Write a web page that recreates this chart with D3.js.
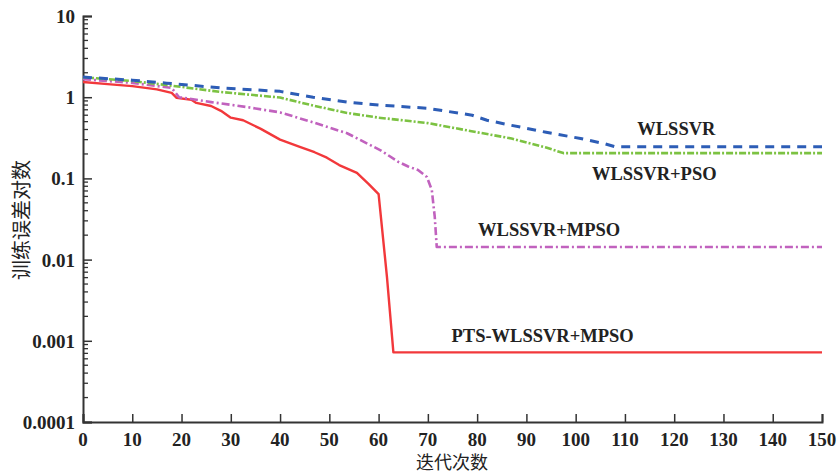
<!DOCTYPE html>
<html>
<head>
<meta charset="utf-8">
<script src="https://cdn.jsdelivr.net/npm/d3@7"></script>
<style>
  body { margin: 0; background: #fff; }
  svg text { fill: #222; }
</style>
</head>
<body>
<div id="chart"></div>
<script>
// iteration count / training error (log)
var redX = [0, 5, 10, 15, 18, 19, 22, 23, 26, 28, 30, 32.5, 36, 40, 44, 47, 49.5, 52, 55.6, 58, 60, 61.7, 63, 150]
var redY = [1.54, 1.45, 1.37, 1.25, 1.13, 0.98, 0.93, 0.85, 0.78, 0.68, 0.56, 0.52, 0.41, 0.30, 0.245, 0.21, 0.18, 0.146, 0.117, 0.085, 0.064, 0.0061, 0.00072, 0.00072]

var mpsoX = [0, 10, 18, 19.5, 22, 26, 33, 40, 46.7, 53.6, 60.5, 64, 66, 68, 69.8, 70.8, 71.4, 71.8, 150]
var mpsoY = [1.67, 1.5, 1.3, 1.0, 0.95, 0.87, 0.76, 0.65, 0.49, 0.36, 0.22, 0.16, 0.14, 0.127, 0.104, 0.072, 0.0335, 0.0143, 0.0143]

var blueX = [0, 10, 17, 28, 40, 46.7, 53.6, 60, 70, 79, 82, 87, 94, 101, 105.6, 108, 150]
var blueY = [1.77, 1.62, 1.49, 1.3, 1.18, 1.0, 0.87, 0.8, 0.73, 0.6, 0.52, 0.45, 0.37, 0.31, 0.27, 0.245, 0.245]

var psoX = [0, 10, 17, 28, 40, 46.7, 53.6, 60, 70, 80, 87, 94, 97.5, 150]
var psoY = [1.76, 1.58, 1.41, 1.16, 0.99, 0.79, 0.64, 0.56, 0.48, 0.37, 0.31, 0.24, 0.205, 0.205]

var xTicks = [0, 10, 20, 30, 40, 50, 60, 70, 80, 90, 100, 110, 120, 130, 140, 150]
var yTicks = [10, 1, 0.1, 0.01, 0.001, 0.0001]
var yTickLabels = ["10", "1", "0.1", "0.01", "0.001", "0.0001"]

var seriesNames = ["WLSSVR", "WLSSVR+PSO", "WLSSVR+MPSO", "PTS-WLSSVR+MPSO"]
// label anchors in data units (x, y)
var labelX = [112.5, 103.3, 80.2, 74.8]
var labelY = [0.342, 0.0955, 0.0195, 0.00098]

var width = 837, height = 475
var margin = {left: 83, right: 15, top: 16, bottom: 53}

var svg = d3.select("#chart").append("svg").attr("width", width).attr("height", height)

var x = d3.scaleLinear().domain([0, 150]).range([margin.left, width - margin.right])
var y = d3.scaleLog().domain([0.0001, 10]).range([height - margin.bottom, margin.top])

var font = "'Liberation Serif', 'Times New Roman', serif"

// minor ticks on y
var minor = []
for (var e = -4; e < 1; e++) {
  for (var m = 2; m <= 9; m++) minor.push(m * Math.pow(10, e))
}
svg.append("g").selectAll("line").data(minor).enter().append("line")
  .attr("x1", margin.left).attr("x2", margin.left + 5)
  .attr("y1", d => y(d)).attr("y2", d => y(d))
  .attr("stroke", "#333").attr("stroke-width", 1.3)

// y axis
var yAxis = svg.append("g").attr("transform", "translate(" + margin.left + ",0)")
  .call(d3.axisRight(y).tickValues(yTicks).tickSize(9).tickFormat(""))
yAxis.select(".domain").attr("stroke", "#333").attr("stroke-width", 2)
yAxis.selectAll(".tick line").attr("stroke", "#333").attr("stroke-width", 1.5)
svg.append("g").selectAll("text").data(yTicks).enter().append("text")
  .attr("x", margin.left - 8).attr("y", d => y(d) + 7)
  .attr("text-anchor", "end")
  .style("font-family", font).style("font-size", "19px").style("font-weight", "bold")
  .text((d, i) => yTickLabels[i])

// x axis
var xAxis = svg.append("g").attr("transform", "translate(0," + (height - margin.bottom) + ")")
  .call(d3.axisTop(x).tickValues(xTicks).tickSize(8).tickFormat(""))
xAxis.select(".domain").attr("stroke", "#333").attr("stroke-width", 2)
xAxis.selectAll(".tick line").attr("stroke", "#333").attr("stroke-width", 1.5)
svg.append("g").selectAll("text").data(xTicks).enter().append("text")
  .attr("x", d => x(d)).attr("y", height - margin.bottom + 24)
  .attr("text-anchor", "middle")
  .style("font-family", font).style("font-size", "19px").style("font-weight", "bold")
  .text(d => d)

// axis titles
svg.append("text").text("迭代次数")
  .attr("x", 452).attr("y", 469).attr("text-anchor", "middle")
  .style("font-family", "'Noto Sans CJK SC'").style("font-size", "18px")
svg.append("text").text("训练误差对数")
  .attr("transform", "translate(29,220) rotate(-90)").attr("text-anchor", "middle")
  .style("font-family", "'Noto Sans CJK SC'").style("font-size", "20px")

// lines
var series = [
  {xs: blueX, ys: blueY, color: "#2d5db6", w: 3, dash: "9,7"},
  {xs: psoX, ys: psoY, color: "#7cc242", w: 2.6, dash: "7,2,2,2"},
  {xs: mpsoX, ys: mpsoY, color: "#c162be", w: 2.6, dash: "8,3,2,3"},
  {xs: redX, ys: redY, color: "#f2383b", w: 2.4, dash: null}
]
var line = d3.line().x(d => x(d[0])).y(d => y(d[1]))
series.slice().reverse().forEach(function (s) {
  svg.append("path")
    .datum(s.xs.map((v, i) => [v, s.ys[i]]))
    .attr("d", line)
    .attr("fill", "none")
    .attr("stroke", s.color)
    .attr("stroke-width", s.w)
    .attr("stroke-dasharray", s.dash)
    .attr("stroke-linejoin", "round")
})

// series labels
svg.append("g").selectAll("text").data(seriesNames).enter().append("text")
  .attr("x", (d, i) => x(labelX[i])).attr("y", (d, i) => y(labelY[i]))
  .style("font-family", font).style("font-size", "18.5px").style("font-weight", "bold")
  .text(d => d)
</script>
</body>
</html>
